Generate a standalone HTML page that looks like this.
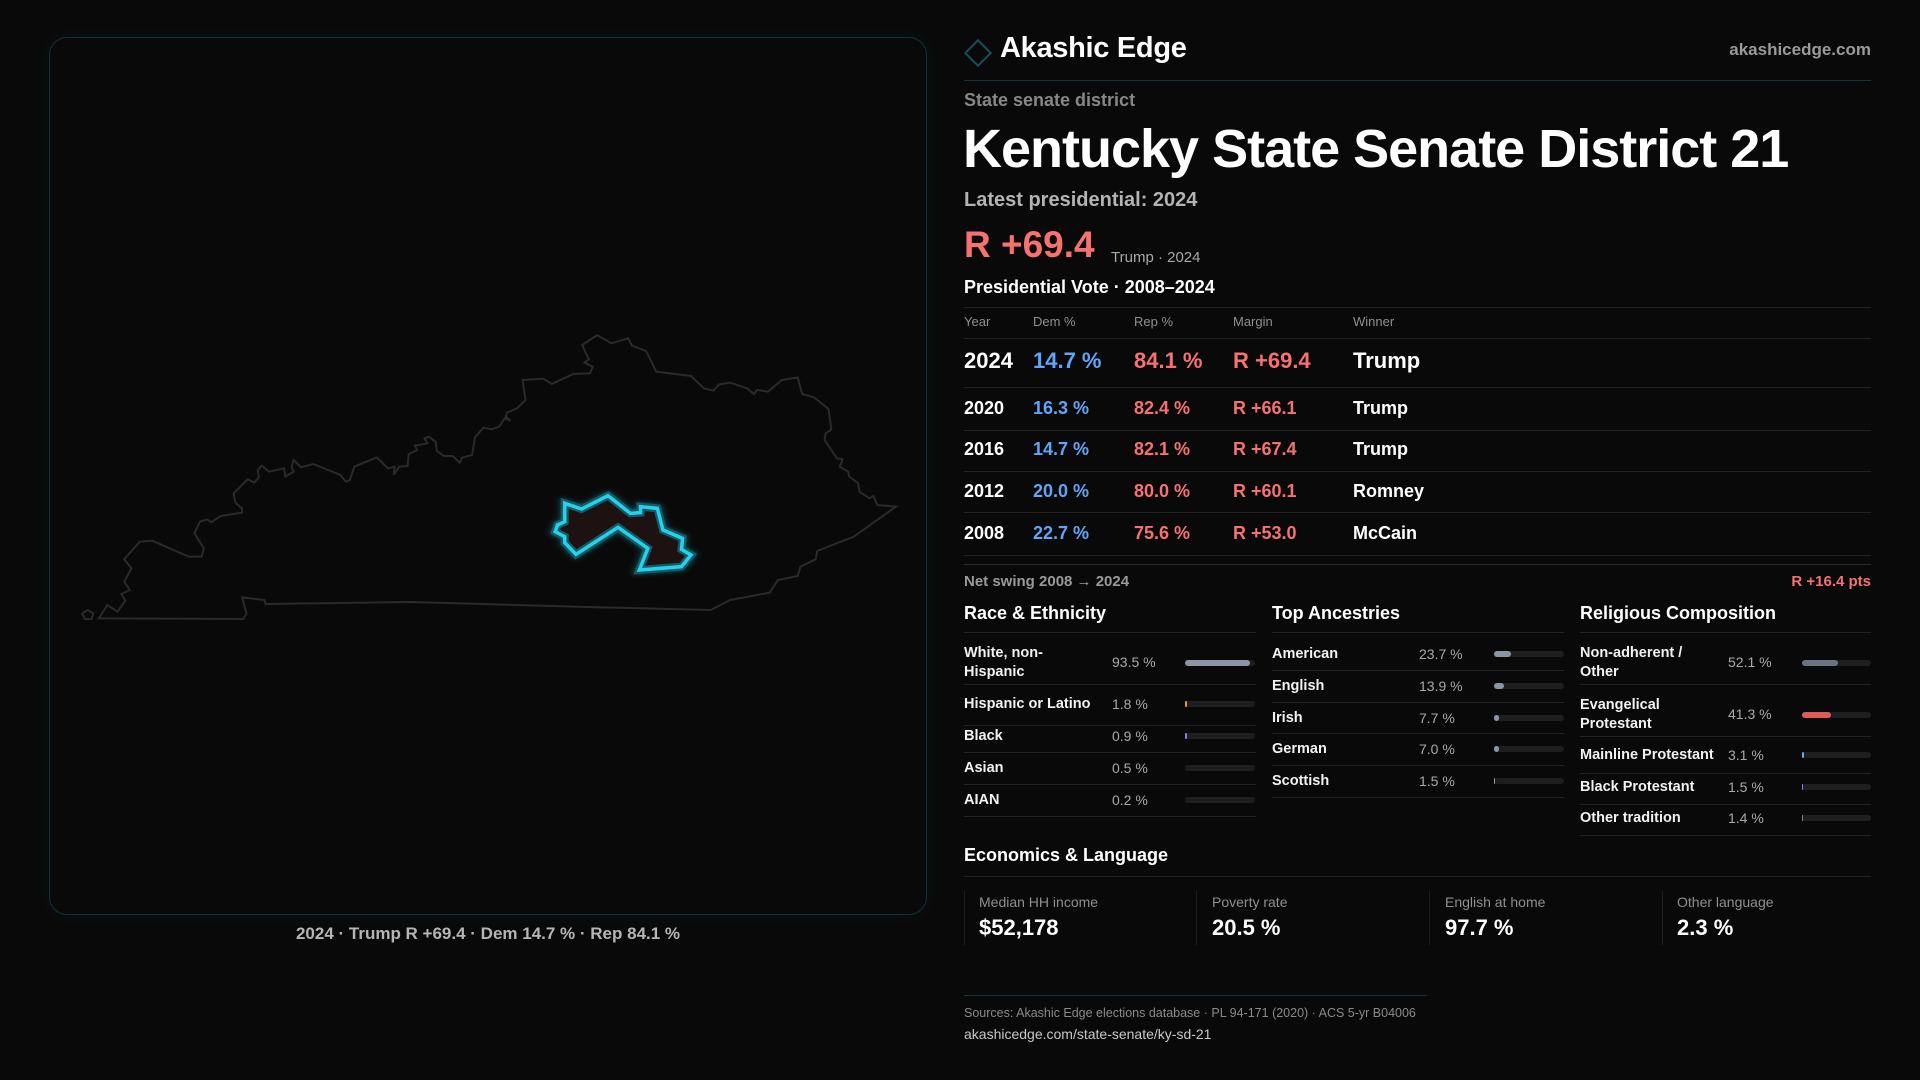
<!DOCTYPE html>
<html><head><meta charset="utf-8"><style>
*{margin:0;padding:0;box-sizing:border-box}
body{width:1920px;height:1080px;background:#0a0909;font-family:"Liberation Sans",sans-serif;color:#fff;position:relative;overflow:hidden}
.a{position:absolute;white-space:nowrap}
.g{color:#8f8f8f}
.hl{position:absolute;height:1px;background:#222}
.tr{position:absolute;height:6px;border-radius:3px;background:#1e1e21}
.br{position:absolute;height:6px;border-radius:3px}
.row{font-size:14.5px;font-weight:bold;color:#f2f2f2;line-height:19px}
.val{font-size:14px;color:#a9a9a9}
</style></head><body>
<div class="a" style="left:49px;top:37px;width:878px;height:878px;border:1px solid #133238;border-radius:18px;box-shadow:0 0 18px rgba(34,211,238,0.06)"></div>
<svg class="a" style="left:40px;top:320px" width="880" height="320" viewBox="0 0 1568 960" preserveAspectRatio="none">
<defs><filter id="gl" x="-20%" y="-20%" width="140%" height="140%"><feGaussianBlur stdDeviation="6"/></filter></defs>
<path vector-effect="non-scaling-stroke" fill="none" stroke="#2a2a2b" stroke-width="2" d="M105,895 L120,855 138,875 152,842 145,822 160,810 150,785 163,745 150,718 178,665 200,662 265,710 288,710 292,685 275,640 285,605 298,598 305,607 322,588 360,578 360,565 348,548 345,520 370,478 382,488 390,472 388,450 395,437 408,455 435,445 437,470 452,455 448,440 452,420 465,442 487,432 535,465 545,485 552,480 560,440 600,412 620,445 632,440 630,465 640,440 655,438 657,402 672,390 668,377 690,370 685,355 693,350 705,365 707,393 720,408 735,408 748,428 752,413 770,405 775,352 790,323 805,328 818,320 828,295 838,302 830,290 832,278 850,265 865,240 860,180 897,176 912,192 950,162 980,160 985,140 970,128 978,118 966,75 993,45 1018,70 1048,55 1055,77 1080,93 1098,155 1160,168 1183,205 1200,212 1210,193 1230,188 1260,205 1272,222 1278,210 1297,215 1322,180 1350,172 1358,222 1380,233 1405,267 1410,328 1400,340 1398,360 1412,395 1420,415 1430,418 1425,440 1440,455 1442,470 1458,490 1460,515 1478,535 1485,528 1492,555 1525,560 1450,650 1385,693 1382,718 1355,740 1350,768 1315,780 1300,818 1230,840 1195,870 1000,862 660,846 402,852 400,840 360,832 368,880 362,897 Z M75,880 L85,870 95,880 92,897 80,897 Z"/>
<path vector-effect="non-scaling-stroke" fill="none" stroke="#22d3ee" stroke-opacity="0.35" stroke-width="9" filter="url(#gl)" d="M935,550 L965,567 1012,527 1052,580 1070,578 1070,560 1100,565 1110,630 1145,655 1143,688 1160,705 1143,740 1068,750 1083,685 1030,622 955,703 935,668 935,650 918,635 922,615 935,605 Z"/>
<path vector-effect="non-scaling-stroke" fill="#1e1112" stroke="#1b5864" stroke-width="8" d="M935,550 L965,567 1012,527 1052,580 1070,578 1070,560 1100,565 1110,630 1145,655 1143,688 1160,705 1143,740 1068,750 1083,685 1030,622 955,703 935,668 935,650 918,635 922,615 935,605 Z"/>
<path vector-effect="non-scaling-stroke" fill="none" stroke="#22d3ee" stroke-width="3.5" d="M935,550 L965,567 1012,527 1052,580 1070,578 1070,560 1100,565 1110,630 1145,655 1143,688 1160,705 1143,740 1068,750 1083,685 1030,622 955,703 935,668 935,650 918,635 922,615 935,605 Z"/>
</svg>
<div class="a" style="left:0;width:976px;top:924px;text-align:center;font-size:17px;color:#b5b5b5;font-weight:bold">2024 · Trump R +69.4 · Dem 14.7 % · Rep 84.1 %</div>

<div class="a" style="left:968px;top:43px;width:20px;height:20px;border:2px solid #15505a;transform:rotate(45deg)"></div>
<div class="a" style="left:1000px;top:32px;font-size:29px;font-weight:bold;letter-spacing:-0.3px">Akashic Edge</div>
<div class="a g" style="right:49px;top:40px;font-size:17px;font-weight:bold;color:#9a9a9a">akashicedge.com</div>
<div class="hl" style="left:964px;width:907px;top:80px;background:#16333a"></div>
<div class="a" style="left:964px;top:90px;font-size:18px;font-weight:bold;color:#878787">State senate district</div>
<div class="a" style="left:963px;top:118px;font-size:54px;font-weight:bold;letter-spacing:-1px">Kentucky State Senate District 21</div>
<div class="a" style="left:964px;top:189px;font-size:20px;font-weight:bold;color:#b3b3b3">Latest presidential: 2024</div>
<div class="a" style="left:964px;top:224px;font-size:37px;font-weight:bold;color:#f87171">R +69.4</div>
<div class="a" style="left:1111px;top:249px;font-size:15px;color:#a8a8a8">Trump · 2024</div>
<div class="a" style="left:964px;top:277px;font-size:18px;font-weight:bold">Presidential Vote · 2008–2024</div>
<div class="hl" style="left:964px;width:907px;top:307px"></div>
<div class="a g" style="left:964px;top:314px;font-size:13px">Year</div>
<div class="a g" style="left:1033px;top:314px;font-size:13px">Dem %</div>
<div class="a g" style="left:1134px;top:314px;font-size:13px">Rep %</div>
<div class="a g" style="left:1233px;top:314px;font-size:13px">Margin</div>
<div class="a g" style="left:1353px;top:314px;font-size:13px">Winner</div>
<div class="hl" style="left:964px;width:907px;top:338px"></div>
<div class="a" style="left:964px;top:348px;font-size:22px;font-weight:bold">2024</div>
<div class="a" style="left:1033px;top:348px;font-size:22px;font-weight:bold;color:#60a5fa">14.7 %</div>
<div class="a" style="left:1134px;top:348px;font-size:22px;font-weight:bold;color:#f87171">84.1 %</div>
<div class="a" style="left:1233px;top:348px;font-size:22px;font-weight:bold;color:#f87171">R +69.4</div>
<div class="a" style="left:1353px;top:348px;font-size:22px;font-weight:bold">Trump</div>
<div class="hl" style="left:964px;width:907px;top:387px"></div>
<div class="a" style="left:964px;top:398px;font-size:18px;font-weight:bold">2020</div><div class="a" style="left:1033px;top:398px;font-size:18px;font-weight:bold;color:#60a5fa">16.3 %</div><div class="a" style="left:1134px;top:398px;font-size:18px;font-weight:bold;color:#f87171">82.4 %</div><div class="a" style="left:1233px;top:398px;font-size:18px;font-weight:bold;color:#f87171">R +66.1</div><div class="a" style="left:1353px;top:398px;font-size:18px;font-weight:bold">Trump</div>
<div class="hl" style="left:964px;width:907px;top:430px"></div>
<div class="a" style="left:964px;top:439px;font-size:18px;font-weight:bold">2016</div><div class="a" style="left:1033px;top:439px;font-size:18px;font-weight:bold;color:#60a5fa">14.7 %</div><div class="a" style="left:1134px;top:439px;font-size:18px;font-weight:bold;color:#f87171">82.1 %</div><div class="a" style="left:1233px;top:439px;font-size:18px;font-weight:bold;color:#f87171">R +67.4</div><div class="a" style="left:1353px;top:439px;font-size:18px;font-weight:bold">Trump</div>
<div class="hl" style="left:964px;width:907px;top:471px"></div>
<div class="a" style="left:964px;top:481px;font-size:18px;font-weight:bold">2012</div><div class="a" style="left:1033px;top:481px;font-size:18px;font-weight:bold;color:#60a5fa">20.0 %</div><div class="a" style="left:1134px;top:481px;font-size:18px;font-weight:bold;color:#f87171">80.0 %</div><div class="a" style="left:1233px;top:481px;font-size:18px;font-weight:bold;color:#f87171">R +60.1</div><div class="a" style="left:1353px;top:481px;font-size:18px;font-weight:bold">Romney</div>
<div class="hl" style="left:964px;width:907px;top:512px"></div>
<div class="a" style="left:964px;top:523px;font-size:18px;font-weight:bold">2008</div><div class="a" style="left:1033px;top:523px;font-size:18px;font-weight:bold;color:#60a5fa">22.7 %</div><div class="a" style="left:1134px;top:523px;font-size:18px;font-weight:bold;color:#f87171">75.6 %</div><div class="a" style="left:1233px;top:523px;font-size:18px;font-weight:bold;color:#f87171">R +53.0</div><div class="a" style="left:1353px;top:523px;font-size:18px;font-weight:bold">McCain</div>
<div class="hl" style="left:964px;width:907px;top:555px"></div>
<div class="hl" style="left:964px;width:907px;top:564px;background:#2a2a2a"></div>
<div class="a" style="left:964px;top:573px;font-size:15px;color:#9a9a9a;font-weight:bold">Net swing 2008 → 2024</div>
<div class="a" style="right:49px;top:573px;font-size:15px;color:#f87171;font-weight:bold">R +16.4 pts</div>

<div class="a" style="left:964px;top:603px;font-size:18px;font-weight:bold">Race &amp; Ethnicity</div>
<div class="a" style="left:1272px;top:603px;font-size:18px;font-weight:bold">Top Ancestries</div>
<div class="a" style="left:1580px;top:603px;font-size:18px;font-weight:bold">Religious Composition</div>
<div class="hl" style="left:964px;width:292px;top:632px"></div>
<div class="hl" style="left:1272px;width:292px;top:632px"></div>
<div class="hl" style="left:1580px;width:291px;top:632px"></div>

<div class="a row" style="left:964px;top:644px">White, non-<br>Hispanic</div><div class="a val" style="left:1112px;top:654px">93.5 %</div><div class="tr" style="left:1185px;width:70px;top:660px"></div><div class="br" style="left:1185px;width:65px;top:660px;background:#8b95a5"></div>
<div class="hl" style="left:964px;width:292px;top:684px"></div>
<div class="a row" style="left:964px;top:695px">Hispanic or Latino</div><div class="a val" style="left:1112px;top:696px">1.8 %</div><div class="tr" style="left:1185px;width:70px;top:701px"></div><div class="br" style="left:1185px;width:2px;top:701px;background:#f59e0b"></div>
<div class="hl" style="left:964px;width:292px;top:725px"></div>
<div class="a row" style="left:964px;top:727px">Black</div><div class="a val" style="left:1112px;top:728px">0.9 %</div><div class="tr" style="left:1185px;width:70px;top:733px"></div><div class="br" style="left:1185px;width:2px;top:733px;background:#8b7cf6"></div>
<div class="hl" style="left:964px;width:292px;top:752px"></div>
<div class="a row" style="left:964px;top:759px">Asian</div><div class="a val" style="left:1112px;top:760px">0.5 %</div><div class="tr" style="left:1185px;width:70px;top:765px"></div>
<div class="hl" style="left:964px;width:292px;top:784px"></div>
<div class="a row" style="left:964px;top:791px">AIAN</div><div class="a val" style="left:1112px;top:792px">0.2 %</div><div class="tr" style="left:1185px;width:70px;top:797px"></div>
<div class="hl" style="left:964px;width:292px;top:816px"></div>

<div class="a row" style="left:1272px;top:645px">American</div><div class="a val" style="left:1419px;top:646px">23.7 %</div><div class="tr" style="left:1494px;width:70px;top:651px"></div><div class="br" style="left:1494px;width:17px;top:651px;background:#8b95a5"></div>
<div class="hl" style="left:1272px;width:292px;top:670px"></div>
<div class="a row" style="left:1272px;top:677px">English</div><div class="a val" style="left:1419px;top:678px">13.9 %</div><div class="tr" style="left:1494px;width:70px;top:683px"></div><div class="br" style="left:1494px;width:10px;top:683px;background:#8b95a5"></div>
<div class="hl" style="left:1272px;width:292px;top:702px"></div>
<div class="a row" style="left:1272px;top:709px">Irish</div><div class="a val" style="left:1419px;top:710px">7.7 %</div><div class="tr" style="left:1494px;width:70px;top:715px"></div><div class="br" style="left:1494px;width:5px;top:715px;background:#8b95a5"></div>
<div class="hl" style="left:1272px;width:292px;top:733px"></div>
<div class="a row" style="left:1272px;top:740px">German</div><div class="a val" style="left:1419px;top:741px">7.0 %</div><div class="tr" style="left:1494px;width:70px;top:746px"></div><div class="br" style="left:1494px;width:5px;top:746px;background:#8b95a5"></div>
<div class="hl" style="left:1272px;width:292px;top:765px"></div>
<div class="a row" style="left:1272px;top:772px">Scottish</div><div class="a val" style="left:1419px;top:773px">1.5 %</div><div class="tr" style="left:1494px;width:70px;top:778px"></div><div class="br" style="left:1494px;width:1px;top:778px;background:#8b95a5"></div>
<div class="hl" style="left:1272px;width:292px;top:797px"></div>

<div class="a row" style="left:1580px;top:644px">Non-adherent /<br>Other</div><div class="a val" style="left:1728px;top:654px">52.1 %</div><div class="tr" style="left:1802px;width:69px;top:660px"></div><div class="br" style="left:1802px;width:36px;top:660px;background:#6b7280"></div>
<div class="hl" style="left:1580px;width:291px;top:684px"></div>
<div class="a row" style="left:1580px;top:696px">Evangelical<br>Protestant</div><div class="a val" style="left:1728px;top:706px">41.3 %</div><div class="tr" style="left:1802px;width:69px;top:712px"></div><div class="br" style="left:1802px;width:29px;top:712px;background:#e05a5a"></div>
<div class="hl" style="left:1580px;width:291px;top:736px"></div>
<div class="a row" style="left:1580px;top:746px">Mainline Protestant</div><div class="a val" style="left:1728px;top:747px">3.1 %</div><div class="tr" style="left:1802px;width:69px;top:752px"></div><div class="br" style="left:1802px;width:2px;top:752px;background:#60a5fa"></div>
<div class="hl" style="left:1580px;width:291px;top:773px"></div>
<div class="a row" style="left:1580px;top:778px">Black Protestant</div><div class="a val" style="left:1728px;top:779px">1.5 %</div><div class="tr" style="left:1802px;width:69px;top:784px"></div><div class="br" style="left:1802px;width:1px;top:784px;background:#8b7cf6"></div>
<div class="hl" style="left:1580px;width:291px;top:804px"></div>
<div class="a row" style="left:1580px;top:809px">Other tradition</div><div class="a val" style="left:1728px;top:810px">1.4 %</div><div class="tr" style="left:1802px;width:69px;top:815px"></div><div class="br" style="left:1802px;width:1px;top:815px;background:#888"></div>
<div class="hl" style="left:1580px;width:291px;top:835px"></div>

<div class="a" style="left:964px;top:845px;font-size:18px;font-weight:bold">Economics &amp; Language</div>
<div class="hl" style="left:964px;width:907px;top:876px"></div>
<div class="a" style="left:964px;top:891px;width:1px;height:54px;background:#1e1e1e"></div>
<div class="a" style="left:1196px;top:891px;width:1px;height:54px;background:#1e1e1e"></div>
<div class="a" style="left:1429px;top:891px;width:1px;height:54px;background:#1e1e1e"></div>
<div class="a" style="left:1662px;top:891px;width:1px;height:54px;background:#1e1e1e"></div>
<div class="a g" style="left:979px;top:894px;font-size:14px">Median HH income</div><div class="a" style="left:979px;top:915px;font-size:22px;font-weight:bold">$52,178</div>
<div class="a g" style="left:1212px;top:894px;font-size:14px">Poverty rate</div><div class="a" style="left:1212px;top:915px;font-size:22px;font-weight:bold">20.5 %</div>
<div class="a g" style="left:1445px;top:894px;font-size:14px">English at home</div><div class="a" style="left:1445px;top:915px;font-size:22px;font-weight:bold">97.7 %</div>
<div class="a g" style="left:1677px;top:894px;font-size:14px">Other language</div><div class="a" style="left:1677px;top:915px;font-size:22px;font-weight:bold">2.3 %</div>

<div class="hl" style="left:964px;width:463px;top:995px;background:#16333a"></div>
<div class="a" style="left:964px;top:1006px;font-size:12.5px;color:#8a8a8a">Sources: Akashic Edge elections database · PL 94-171 (2020) · ACS 5-yr B04006</div>
<div class="a" style="left:964px;top:1026px;font-size:14px;color:#c8c8c8">akashicedge.com/state-senate/ky-sd-21</div>
</body></html>
